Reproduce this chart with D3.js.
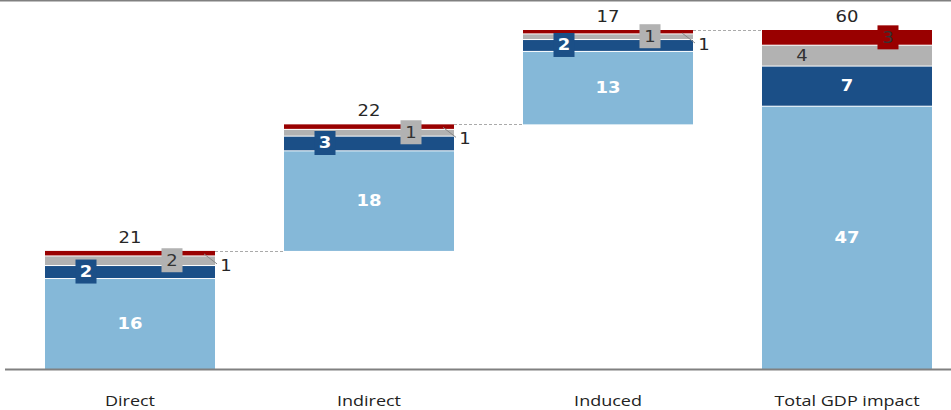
<!DOCTYPE html>
<head>
  <meta charset="utf-8">
  <script src="https://d3js.org/d3.v7.min.js"></script>
  <style>
    body { margin:0; background:#fff; }
    svg { display:block; }
  </style>
</head>

<body>
  <script>
    // chart data (GDP impact, segments bottom -> top)
    var categories = ["Direct", "Indirect", "Induced", "Total GDP impact"],
        lightBlue = [16.1, 17.8, 13.0, 46.6],
        darkBlue  = [2.3, 2.6, 2.1, 7.1],
        grey      = [1.7, 1.2, 1.0, 3.7],
        red       = [0.8, 0.8, 0.6, 2.6],
        totals    = [21, 22, 17, 60],
        yMax = 60;

    var colors = ["#85b8d8", "#1b4f87", "#b2b2b2", "#990000"],
        textIn = ["#fff", "#fff", "#333", "#333"];

    var W = 951, H = 410;
    var svg = d3.select("body").append("svg").attr("width", W).attr("height", H);

    var x = d3.scaleBand().domain(categories)
        .range([10.5, 966.5]).paddingInner(69 / 239).paddingOuter(69 / 478);
    var y = d3.scaleLinear().domain([0, yMax]).range([369, 30]);

    var font = "'DejaVu Sans', Verdana, sans-serif";
    // text is a bit wider than tall in the original, so stretch it
    function label(px, py, txt, size, opts) {
      opts = opts || {};
      return svg.append("text")
        .attr("transform", "translate(" + px + "," + py + ") scale(1.2,1)")
        .attr("text-anchor", "middle")
        .attr("dy", opts.dy || null)
        .attr("font-family", opts.family || font)
        .attr("font-size", size)
        .attr("font-weight", opts.bold ? "bold" : "normal")
        .attr("fill", opts.fill || "#262626")
        .text(txt);
    }

    // build stacked segments, waterfall bases
    var table = categories.map(function(c, i) {
      return { cat: c, vals: [lightBlue[i], darkBlue[i], grey[i], red[i]], total: totals[i], last: i == categories.length - 1 };
    });
    var run = 0;
    table.forEach(function(d) {
      d.base = d.last ? 0 : run;
      var s = d.base;
      d.segs = d.vals.map(function(v, k) {
        var seg = { k: k, v: v, y0: s, y1: s + v, d: d };
        s += v;
        return seg;
      });
      d.top = s;
      if (!d.last) run = s;
    });

    // top rule
    svg.append("line").attr("x1", 0).attr("x2", W).attr("y1", 0.5).attr("y2", 0.5)
      .attr("stroke", "#808080").attr("stroke-width", 2);

    // dashed connectors
    table.forEach(function(d, i) {
      if (i == table.length - 1) return;
      var n = table[i + 1];
      svg.append("line")
        .attr("x1", x(d.cat) + x.bandwidth()).attr("x2", x(n.cat))
        .attr("y1", Math.round(y(d.top)) + 0.5).attr("y2", Math.round(y(d.top)) + 0.5)
        .attr("stroke", "#aaa").attr("stroke-dasharray", "3,2").attr("stroke-width", 1);
    });

    var bars = svg.selectAll("g.bar").data(table).enter().append("g").attr("class", "bar");

    bars.selectAll("rect").data(function(d) { return d.segs; })
      .enter().append("rect")
        .attr("x", function(s) { return x(s.d.cat); })
        .attr("width", x.bandwidth())
        .attr("y", function(s) { return y(s.y1) + (s.k == 3 ? 0 : 1); })
        .attr("height", function(s) { return Math.max(0, y(s.y0) - y(s.y1) - (s.k == 3 ? 0 : 1)); })
        .attr("fill", function(s) { return colors[s.k]; });

    // segment labels
    table.forEach(function(d) {
      var left = x(d.cat), right = left + x.bandwidth(), mid = left + x.bandwidth() / 2;
      d.segs.forEach(function(s) {
        var h = y(s.y0) - y(s.y1), cy = (y(s.y0) + y(s.y1)) / 2, lab = Math.round(s.v);
        if (s.k == 3 && !d.last) {
          // small red slice: label outside with leader
          var t = y(s.y1);
          svg.append("line").attr("x1", right - 11).attr("y1", t + 3).attr("x2", right + 2).attr("y2", t + 13)
            .attr("stroke", "#888").attr("stroke-width", 1);
          label(right + 11, t + 20, lab, 15);
          return;
        }
        var bx;
        if (s.k == 0) bx = mid;
        else if (s.k == 1) bx = h >= 20 ? mid : left + 41;
        else if (s.k == 2) bx = h >= 18 ? left + 40 : left + 127;
        else bx = left + 126;
        if (h < 18) {
          svg.append("rect").attr("x", bx - 10.5).attr("y", cy - 12).attr("width", 21).attr("height", 24)
            .attr("fill", colors[s.k]);
        }
        label(bx, cy, lab, 15, { dy: "0.36em", bold: s.k < 2, fill: textIn[s.k] });
      });
      // total label above
      label(mid, y(d.top) - 8, d.total, 15);
    });

    // x axis
    var axis = svg.append("g").attr("transform", "translate(0,369)")
      .call(d3.axisBottom(x).tickSize(0).tickPadding(26));
    axis.select(".domain").remove();
    axis.selectAll("text")
      .attr("font-family", "'Open Sans', sans-serif").attr("font-size", 15).attr("fill", "#222")
      .attr("transform", "scale(1.2,1)");

    svg.append("line").attr("x1", 5).attr("x2", W).attr("y1", 369.5).attr("y2", 369.5)
      .attr("stroke", "#808080").attr("stroke-width", 2);
  </script>
</body>

</html>
